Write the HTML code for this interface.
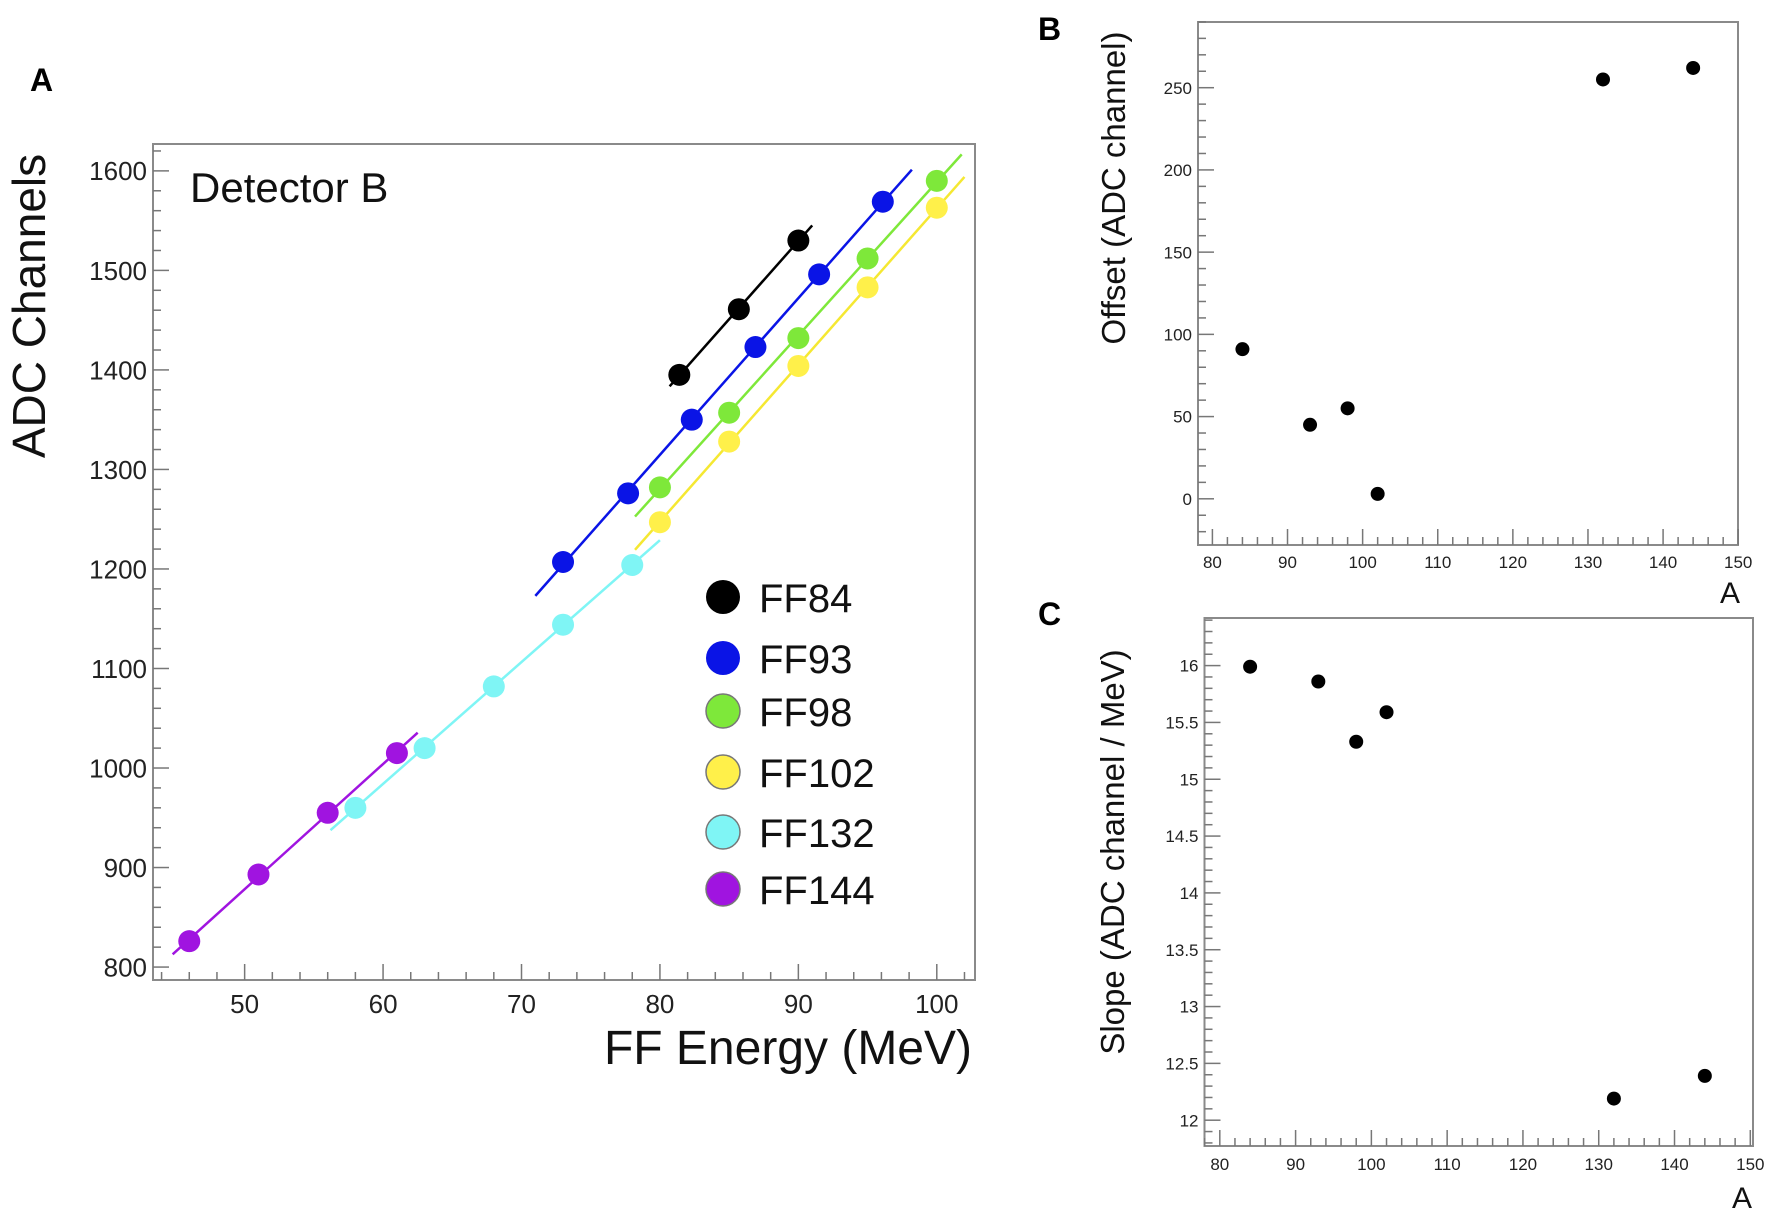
<!DOCTYPE html>
<html><head><meta charset="utf-8"><style>
html,body{margin:0;padding:0;background:#fff;}
svg{display:block;}
text{font-family:"Liberation Sans",sans-serif;}
</style></head><body>
<svg id="fig" width="1772" height="1213" viewBox="0 0 1772 1213">
<text x="30" y="91" font-size="32" font-weight="bold">A</text>
<text x="1038" y="40" font-size="32" font-weight="bold">B</text>
<text x="1038" y="625" font-size="32" font-weight="bold">C</text>
<g id="pa"></g>
<g id="pb"></g>
<g id="pc"></g>
</svg>
<script>
// Panel A data
const seriesNames = ["FF84","FF93","FF98","FF102","FF132","FF144"];
const seriesColors = ["#000000","#0a14e6","#7ee83a","#fff04a","#7ff5f5","#a014e0"];
const energyFF84 = [81.4,85.7,90];
const adcFF84 = [1395,1461,1530];
const energyFF93 = [73,77.7,82.3,86.9,91.5,96.1];
const adcFF93 = [1207,1276,1350,1423,1496,1569];
const energyFF98 = [80,85,90,95,100];
const adcFF98 = [1282,1357,1432,1512,1590];
const energyFF102 = [80,85,90,95,100];
const adcFF102 = [1247,1328,1404,1483,1563];
const energyFF132 = [58,63,68,73,78];
const adcFF132 = [960,1020,1082,1144,1204];
const energyFF144 = [46,51,56,61];
const adcFF144 = [826,893,955,1015];
const fitRangeLo = [80.7,71,78.2,78.2,56.2,44.8];
const fitRangeHi = [91,98.2,101.8,102,80,62.5];
const xTicksA = [50,60,70,80,90,100];
const yTicksA = [800,900,1000,1100,1200,1300,1400,1500,1600];
// Panel B data
const massA = [84,93,98,102,132,144];
const offsetVals = [91,45,55,3,255,262];
const yTicksB = [0,50,100,150,200,250];
// Panel C data
const slopeVals = [15.99,15.86,15.33,15.59,12.19,12.39];
const yTicksC = [12,12.5,13,13.5,14,14.5,15,15.5,16];
const xTicksBC = [80,90,100,110,120,130,140,150];

const NS="http://www.w3.org/2000/svg";
function mk(parent,tag,attrs){const e=document.createElementNS(NS,tag);for(const k in attrs)e.setAttribute(k,attrs[k]);parent.appendChild(e);return e;}
function scale(d0,d1,r0,r1){return v=>r0+(v-d0)/(d1-d0)*(r1-r0);}

function frame(g,L,T,R,B,xs,ys,xt,yt,xmin,ymin,xmaj,ymaj,fs,lblY,fmt){
  const f=mk(g,'rect',{x:L,y:T,width:R-L,height:B-T,fill:'none',stroke:'#8a8a8a','stroke-width':2});
  
  
  const x0=xs.inv0,x1=xs.inv1;
  for(let v=Math.ceil(x0/xmin)*xmin;v<=x1+1e-9;v+=xmin){
    const px=xs(v);const maj=Math.abs(v/xmaj-Math.round(v/xmaj))<1e-6;
    mk(g,'line',{x1:px,x2:px,y1:B,y2:B-(maj?16:8),stroke:'#777','stroke-width':1.5});
  }
  for(let v=Math.ceil(ys.inv0/ymin)*ymin;v<=ys.inv1+1e-9;v+=ymin){
    const py=ys(v);const maj=Math.abs(v/ymaj-Math.round(v/ymaj))<1e-6;
    mk(g,'line',{x1:L,x2:L+(maj?16:8),y1:py,y2:py,stroke:'#777','stroke-width':1.5});
  }
  xt.forEach(v=>{const t=mk(g,'text',{x:xs(v),y:lblY,'font-size':fs,'text-anchor':'middle',fill:'#222'});t.textContent=v;
    
    });
  yt.forEach(v=>{const t=mk(g,'text',{x:L-6,y:ys(v)+fs*0.36,'font-size':fs,'text-anchor':'end',fill:'#222'});t.textContent=fmt?fmt(v):v;
    
    });
}

// ----- Panel A
(function(){
  const g=document.getElementById('pa');
  const L=153,R=975,T=144,B=980;
  const xs=scale(43.38,102.76,L,R);xs.inv0=43.38;xs.inv1=102.76;
  const ys=scale(787,1627,B,T);ys.inv0=787;ys.inv1=1627;
  frame(g,L,T,R,B,xs,ys,xTicksA,yTicksA,2,20,10,100,26,1013);
  const E=[energyFF84,energyFF93,energyFF98,energyFF102,energyFF132,energyFF144];
  const Y=[adcFF84,adcFF93,adcFF98,adcFF102,adcFF132,adcFF144];
  E.forEach((ex,i)=>{
    const ey=Y[i];const n=ex.length;
    let mx=0,my=0;ex.forEach((v,j)=>{mx+=v;my+=ey[j];});mx/=n;my/=n;
    let sxx=0,sxy=0;ex.forEach((v,j)=>{sxx+=(v-mx)*(v-mx);sxy+=(v-mx)*(ey[j]-my);});
    const m=sxy/sxx,b=my-m*mx;
    const lo=fitRangeLo[i],hi=fitRangeHi[i];
    const ln=mk(g,'line',{x1:xs(lo),y1:ys(m*lo+b),x2:xs(hi),y2:ys(m*hi+b),stroke:seriesColors[i]==='#fff04a'?'#f5e832':seriesColors[i],'stroke-width':2.5});
    
    
    ex.forEach((v,j)=>{
      const c=mk(g,'circle',{cx:xs(v),cy:ys(ey[j]),r:11,fill:seriesColors[i]});
      
      
    });
  });
  const dt=mk(g,'text',{x:190,y:202,'font-size':42,fill:'#111'});dt.textContent='Detector B';
  
  
  const yl=mk(g,'text',{x:0,y:0,'font-size':46,'text-anchor':'middle',fill:'#111',transform:'translate(45,306) rotate(-90)'});yl.textContent='ADC Channels';
  
  
  const xl=mk(g,'text',{x:972,y:1064,'font-size':48,'text-anchor':'end',fill:'#111'});xl.textContent='FF Energy (MeV)';
  
  
  const legY=[597,658,711,772,832,889];
  seriesNames.forEach((nm,i)=>{
    const c=mk(g,'circle',{cx:723,cy:legY[i],r:17,fill:seriesColors[i],stroke:i>1?'#777':'none','stroke-width':1.5});
    
    
    const t=mk(g,'text',{x:759,y:legY[i]+15,'font-size':40,fill:'#111'});t.textContent=nm;
    
    
  });
})();

// ----- Panel B
(function(){
  const g=document.getElementById('pb');
  const L=1198,R=1738,T=22,B=545;
  const xs=scale(80,150,1212.4,1738.2);xs.inv0=78.2;xs.inv1=150;
  const ys=scale(0,250,498.8,87.7);ys.inv0=-28;ys.inv1=290;
  frame(g,L,T,R,B,xs,ys,xTicksBC,yTicksB,2,10,10,50,17,568);
  massA.forEach((a,i)=>{
    const c=mk(g,'circle',{cx:xs(a),cy:ys(offsetVals[i]),r:7,fill:'#000'});
    
    
  });
  const yl=mk(g,'text',{x:0,y:0,'font-size':33,'text-anchor':'middle',fill:'#111',transform:'translate(1125,188) rotate(-90)'});yl.textContent='Offset (ADC channel)';
  
  
  const xl=mk(g,'text',{x:1740,y:603,'font-size':30,'text-anchor':'end',fill:'#111'});xl.textContent='A';
  
  
})();

// ----- Panel C
(function(){
  const g=document.getElementById('pc');
  const L=1204.5,R=1753,T=618,B=1146;
  const xs=scale(80,150,1219.8,1750.3);xs.inv0=78;xs.inv1=150;
  const ys=scale(12,16,1120.2,665.6);ys.inv0=11.77;ys.inv1=16.42;
  frame(g,L,T,R,B,xs,ys,xTicksBC,yTicksC,2,0.1,10,0.5,17,1170);
  massA.forEach((a,i)=>{
    const c=mk(g,'circle',{cx:xs(a),cy:ys(slopeVals[i]),r:7,fill:'#000'});
    
    
  });
  const yl=mk(g,'text',{x:0,y:0,'font-size':33,'text-anchor':'middle',fill:'#111',transform:'translate(1124,852) rotate(-90)'});yl.textContent='Slope (ADC channel / MeV)';
  
  
  const xl=mk(g,'text',{x:1752,y:1208,'font-size':30,'text-anchor':'end',fill:'#111'});xl.textContent='A';
  
  
})();
</script>
</body></html>
